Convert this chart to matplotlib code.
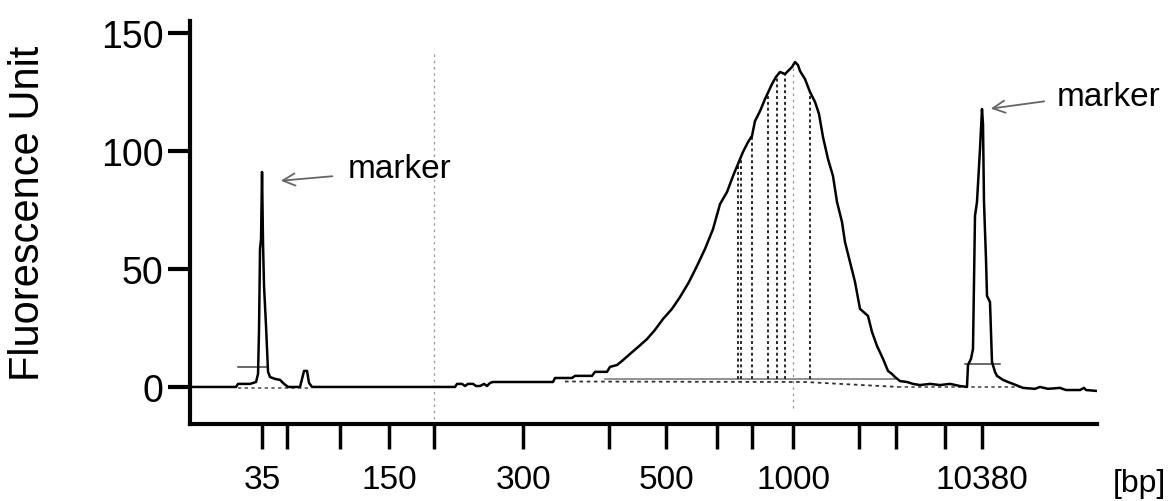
import numpy as np
import matplotlib
matplotlib.use('Agg')
import matplotlib.pyplot as plt

plt.rcParams['font.family'] = ['Liberation Sans', 'DejaVu Sans']

# ladder sizes (bp) and their migration times (s)
ladder_bp = [35, 50, 100, 150, 200, 300, 400, 500, 600, 700, 1000, 2000, 3000, 7000, 10380]
ladder_t = [47.2, 49.7, 55.0, 59.9, 64.4, 73.3, 81.9, 87.6, 92.7, 96.2, 100.3, 106.9, 110.6, 115.5, 119.2]
shown_bp = [35, 150, 300, 500, 1000, 10380]

# electropherogram trace, time (s) / fluorescence (FU)
time = [40.0, 44.6, 44.8, 46.0, 46.6, 46.8, 46.9, 47.0, 47.1, 47.2, 47.3, 47.4, 47.6, 47.8,
        48.0, 48.5, 49.0, 49.4, 49.8, 51.0, 51.2, 51.4, 51.7, 51.9, 52.2,
        66.5, 66.7, 67.2, 67.5, 67.8, 68.3, 68.6, 69.0, 69.4, 69.7, 70.0, 70.3,
        76.3, 76.5, 78.2, 78.5, 80.2, 80.5, 81.7, 82.0, 82.7, 83.2, 84.0, 84.8, 85.7,
        86.5, 87.3, 88.2, 89.0, 89.9, 90.7, 91.5, 92.3, 93.0, 93.7, 94.3, 94.8, 95.3,
        95.8, 96.2, 96.5, 97.0, 97.5, 98.2, 98.6, 99.0, 99.5, 99.8, 100.2, 100.5,
        100.8, 101.0, 101.5, 102.0, 102.5, 102.9, 103.3, 103.8, 104.3, 104.7, 105.2,
        105.5, 106.0, 106.5, 107.0, 107.8, 108.2, 108.7, 109.3, 109.8, 110.2, 110.5,
        111.0, 111.7, 112.3, 113.0, 114.0, 115.0, 116.0, 117.0, 117.7,
        117.8, 118.1, 118.3, 118.5, 118.7, 119.0, 119.2, 119.3, 119.4, 119.6, 119.7,
        120.0, 120.2, 120.5, 120.7, 121.3, 121.8, 122.3, 123.3, 124.5, 125.0, 125.8,
        127.0, 127.6, 129.0, 129.4, 129.6, 130.7]
fu = [0, 0, 1.3, 1.3, 2.1, 5.5, 24.6, 58.5, 62.7, 91.1, 60.6, 42.8, 25.8, 6.4,
      4.2, 3.4, 3.0, 1.3, 0, 0, 3.4, 6.8, 6.8, 1.7, 0,
      0, 1.3, 1.3, 0.4, 1.3, 1.3, 0.4, 0.4, 1.3, 0.4, 1.7, 2.1,
      2.1, 3.8, 3.8, 4.7, 4.7, 6.4, 6.4, 8.5, 9.3, 11.0, 14.0, 16.9, 20.3,
      24.2, 28.8, 33.1, 38.1, 44.5, 51.3, 58.5, 66.9, 77.5, 82.6, 89.4, 94.5, 99.6,
      103.8, 106.4, 112.7, 116.9, 122.0, 128.4, 131.4, 133.5, 132.6, 133.9, 135.6, 137.7,
      136.4, 133.9, 130.5, 125.0, 120.8, 115.7, 105.9, 96.6, 89.4, 78.4, 69.9,
      61.4, 53.0, 44.5, 33.1, 30.1, 23.3, 17.4, 11.9, 6.8, 5.5, 4.2,
      2.5, 2.1, 1.3, 0.8, 1.3, 0.8, 1.3, 0.4, 0,
      9.3, 11.9, 16.1, 72.5, 78.4, 100.8, 117.8, 111.4, 78.4, 54.2, 38.6,
      36.0, 10.6, 6.4, 4.7, 3.0, 2.1, 1.3, -0.4, -0.8, 0, -0.8,
      -0.4, -1.3, -1.3, -0.4, -1.3, -1.7]

# smear region limits (s) and baseline level
region_t = [94.8, 95.1, 96.2, 97.8, 98.7, 99.5, 102.0]
region_span = [81.5, 110.5]
region_level = 3.2

fig = plt.figure(figsize=(11.68, 5.02), dpi=100)
ax = fig.add_axes([0.1627, 0.1534, 0.7765, 0.8028])

# gray size guides at 200 and 1000 bp
t200 = ladder_t[ladder_bp.index(200)]
t1000 = ladder_t[ladder_bp.index(1000)]
ax.vlines(t200, -13.6, 141, colors='0.6', linestyles=(0, (2, 3)), lw=0.9)
ax.vlines(t1000, -9, np.interp(t1000, time, fu), colors='0.6', linestyles=(0, (2, 3)), lw=0.9)

# baselines
ax.plot([44.8, 52.0], [-0.5, -0.5], color='0.35', ls=(0, (2, 2)), lw=1.2)
ax.plot([77.5, 101.5, 110.8], [2.3, 2.1, 0], color='0.2', ls=(0, (2, 2)), lw=1.3)
ax.plot([110.8, 123.0], [0, 0], color='0.3', ls=(0, (2, 2)), lw=1.2)
ax.plot(region_span, [region_level, region_level], color='0.45', lw=1.1)
ax.plot([44.8, 47.7], [8.5, 8.5], color='0.25', lw=1.1)
ax.plot([117.5, 121.0], [9.7, 9.7], color='0.25', lw=1.1)

tops = np.interp(region_t, time, fu)
ax.vlines(region_t, region_level, tops, colors='0.15', linestyles=(0, (1.5, 1.5)), lw=1.4)

ax.plot(time, fu, color='k', lw=1.8)

# marker annotations
arrow = dict(arrowstyle='->', color='0.4', lw=1.3, mutation_scale=22)
ax.annotate('', xy=(48.8, 87.3), xytext=(54.5, 89.4), arrowprops=arrow)
ax.text(55.8, 92.4, 'marker', fontsize=24, va='center', ha='left')
ax.annotate('', xy=(119.8, 117.8), xytext=(125.7, 121.2), arrowprops=arrow)
ax.text(126.7, 123.3, 'marker', fontsize=24, va='center', ha='left', clip_on=False)

ax.set_xlim(40, 130.7)
ax.set_ylim(-15.7, 155.1)
ax.set_yticks([0, 50, 100, 150])
ax.set_xticks(ladder_t)
ax.set_xticklabels([str(b) if b in shown_bp else '' for b in ladder_bp])

for s in ['top', 'right']:
    ax.spines[s].set_visible(False)
for s in ['left', 'bottom']:
    ax.spines[s].set_linewidth(3)

ax.tick_params(axis='y', direction='out', length=16, width=3, labelsize=27, pad=3)
ax.tick_params(axis='x', direction='out', length=18, width=2.5, labelsize=24, pad=11)

fig.text(0.024, 1 - 213 / 502, 'Fluorescence Unit', rotation=90, va='center', ha='center', fontsize=30)
fig.text(1166 / 1168, 1 - 484 / 502, '[bp]', fontsize=23, ha='right', va='center')

fig.savefig('out.png', dpi=100)
